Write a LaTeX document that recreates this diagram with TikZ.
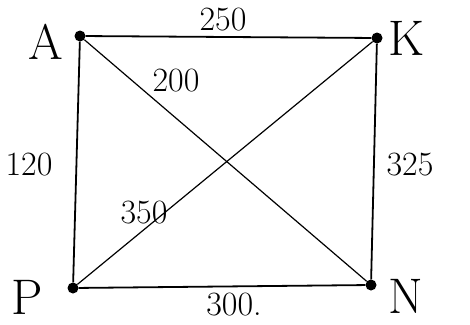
\documentclass[tikz,border=0pt]{standalone}
\usepackage{tikz}
\usetikzlibrary{positioning}

\begin{document}
\begin{tikzpicture}[x=1pt, y=-1pt,
  vertex/.style={circle, fill=black, inner sep=0pt, minimum size=11pt},
  vname/.style={font=\fontsize{50}{54}\selectfont},
  weight/.style={font=\fontsize{34}{37}\selectfont},
  side/.style={line width=1.8pt},
  diag/.style={line width=1.2pt}]
\useasboundingbox (0,0) rectangle (470,324);
% Vertices
\node[vertex] (A) at (80,36) {};
\node[vertex] (K) at (377,38) {};
\node[vertex] (N) at (371,285) {};
\node[vertex] (P) at (73,288) {};
% Vertex names
\node[vname] (nA) at (46,42) {A};
\node[vname] (nK) at (406,38) {K};
\node[vname] (nN) at (406,296) {N};
\node[vname] (nP) at (27,297) {P};
% Edges
\draw[side] (A) -- (K);
\draw[side] (K) -- (N);
\draw[side] (N) -- (P);
\draw[side] (P) -- (A);
\draw[diag] (A) -- (N);
\draw[diag] (P) -- (K);
% Weights
\node[weight] (wAK) at (223,20) {250};
\node[weight] (wAN) at (176,81) {200};
\node[weight] (wAP) at (29,165) {120};
\node[weight] (wKN) at (410,165) {325};
\node[weight] (wPK) at (144,213) {350};
\node[weight] (wPN) at (234,305) {300.};
\end{tikzpicture}
\end{document}
